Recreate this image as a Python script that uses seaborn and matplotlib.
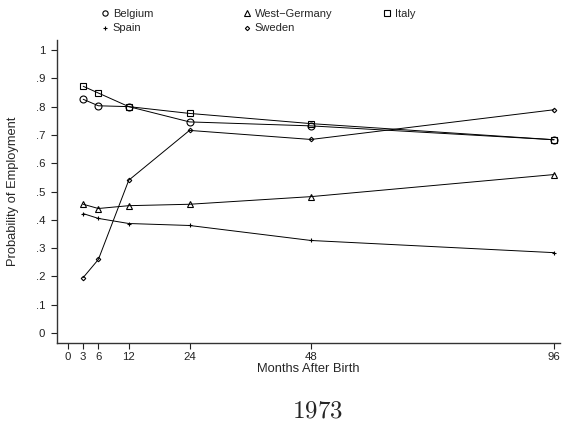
import matplotlib
matplotlib.use("Agg")
import pandas as pd
from matplotlib import pyplot as plt
from matplotlib.lines import Line2D
import seaborn as sns

months = [3, 6, 12, 24, 48, 96]
belgium = [0.826, 0.803, 0.800, 0.746, 0.732, 0.683]
west_germany = [0.455, 0.440, 0.450, 0.455, 0.482, 0.560]
italy = [0.872, 0.848, 0.800, 0.776, 0.740, 0.683]
spain = [0.422, 0.405, 0.387, 0.380, 0.327, 0.284]
sweden = [0.196, 0.260, 0.540, 0.716, 0.684, 0.789]

x_ticks = [0, 3, 6, 12, 24, 48, 96]
y_ticks = [0, 0.1, 0.2, 0.3, 0.4, 0.5, 0.6, 0.7, 0.8, 0.9, 1.0]
y_labels = ["0", ".1", ".2", ".3", ".4", ".5", ".6", ".7", ".8", ".9", "1"]

sns.set_theme(style="ticks")
plt.rcParams["font.family"] = ["Liberation Sans", "DejaVu Sans"]
plt.rcParams["mathtext.fontset"] = "cm"

# name -> (values, marker, plot size, legend size)
series = {
    "Belgium": (belgium, "o", 5, 3.8),
    "West\u2212Germany": (west_germany, "^", 5, 3.8),
    "Italy": (italy, "s", 5, 4.2),
    "Spain": (spain, "+", 3.5, 3.2),
    "Sweden": (sweden, "D", 2.3, 2.2),
}

fig = plt.figure(figsize=(5.64, 4.26), dpi=100)
ax = fig.add_axes([0.1011, 0.1948, 0.892, 0.711])

proxies = {}
for name, (vals, mk, ms, lms) in series.items():
    df = pd.DataFrame({"month": months, "p": vals})
    sns.lineplot(data=df, x="month", y="p", ax=ax, color="black", lw=0.7,
                 marker=mk, markersize=ms, markerfacecolor="none",
                 markeredgecolor="black", markeredgewidth=0.8, legend=False)
    proxies[name] = Line2D([], [], ls="none", marker=mk, markersize=lms,
                           markerfacecolor="none", markeredgecolor="black",
                           markeredgewidth=0.8)

ax.set_xlim(-2.17, 97.2)
ax.set_ylim(-0.0353, 1.035)
ax.set_xticks(x_ticks)
ax.set_xticklabels([str(t) for t in x_ticks])
ax.set_yticks(y_ticks)
ax.set_yticklabels(y_labels)
ax.tick_params(labelsize=8.2, length=4.6, width=0.8, colors="#222222")
ax.tick_params(axis="x", pad=2)
ax.tick_params(axis="y", pad=4)
for s in ["top", "right"]:
    ax.spines[s].set_visible(False)
for s in ["left", "bottom"]:
    ax.spines[s].set_color("#333333")
    ax.spines[s].set_linewidth(1.0)
ax.set_xlabel("Months After Birth", fontsize=9.3, labelpad=0.5)
ax.set_ylabel("Probability of Employment", fontsize=9.3)
ax.yaxis.set_label_coords(-0.0755, 0.5)

cols = [(0.1803, ["Belgium", "Spain"]),
        (0.432, ["West\u2212Germany", "Sweden"]),
        (0.680, ["Italy"])]
for xpos, names in cols:
    fig.legend([proxies[n] for n in names], names, loc="upper left",
               bbox_to_anchor=(xpos, 0.979), frameon=False, fontsize=8,
               handlelength=0.6, handletextpad=0.4, labelspacing=0.4,
               borderpad=0, borderaxespad=0)

fig.text(0.563, 0.019, r"$\mathrm{1973}$", ha="center", va="baseline", fontsize=18)

fig.savefig("out.png", dpi=100)
